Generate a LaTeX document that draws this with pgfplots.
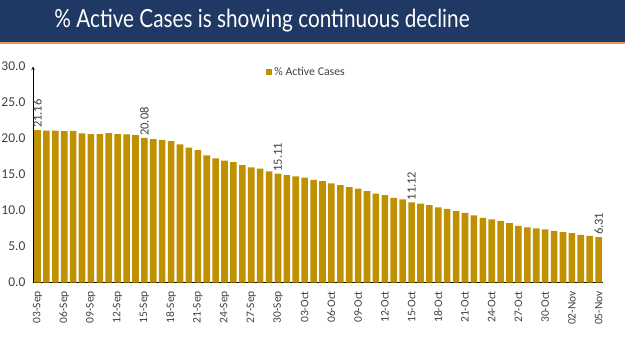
\documentclass[border=0pt]{standalone}
\usepackage{fontspec}
\setmainfont{Carlito}
\newfontfamily\titlefont{Lato}
\usepackage{pgfplots}
\usepackage{pgfplotstable}
\pgfplotsset{compat=1.18}
\definecolor{barcol}{RGB}{191,144,0}
\definecolor{banner}{RGB}{31,56,100}
\definecolor{bannerline}{RGB}{230,150,95}
\definecolor{txt}{RGB}{64,64,64}
\pgfplotstableread{
x y
0 21.16
1 21.11
2 21.09
3 21.03
4 21.07
5 20.70
6 20.60
7 20.60
8 20.74
9 20.62
10 20.56
11 20.47
12 20.08
13 19.91
14 19.82
15 19.63
16 19.17
17 18.75
18 18.38
19 17.64
20 17.23
21 16.92
22 16.72
23 16.31
24 15.99
25 15.80
26 15.43
27 15.11
28 14.92
29 14.74
30 14.55
31 14.27
32 14.08
33 13.78
34 13.52
35 13.24
36 13.05
37 12.68
38 12.36
39 12.13
40 11.76
41 11.53
42 11.12
43 10.97
44 10.74
45 10.45
46 10.23
47 9.91
48 9.67
49 9.31
50 8.97
51 8.76
52 8.57
53 8.24
54 7.87
55 7.67
56 7.53
57 7.37
58 7.18
59 7.00
60 6.86
61 6.62
62 6.48
63 6.31
}\activedata
\pgfplotstableread{
x y
0 21.16
12 20.08
27 15.11
42 11.12
63 6.31
}\labeldata
\begin{document}
\begin{tikzpicture}
\useasboundingbox (0,0) rectangle (625pt,-351pt);
\fill[banner] (0,0) rectangle (625pt,-42pt);
\fill[bannerline] (0,-42pt) rectangle (625pt,-44pt);
\node[text=white, anchor=center, inner sep=0pt] at (262pt,-21pt) {\scalebox{0.83}[1]{\titlefont\fontsize{25}{28}\selectfont \% Active Cases is showing continuous decline}};
\begin{axis}[
  at={(37.5pt,-282.5pt)}, anchor=origin,
  scale only axis, width=570pt, height=216pt,
  xmin=-0.5, xmax=63.5, ymin=0, ymax=30,
  axis x line=bottom, axis y line=left,
  axis line style={black, line width=0.6pt},
  y axis line style={-stealth},
  x axis line style={-},
  ytick={0,5,...,30},
  ytick style={draw=none},
  yticklabel style={/pgf/number format/fixed, /pgf/number format/fixed zerofill, /pgf/number format/precision=1, /pgf/number format/assume math mode=true, font=\fontsize{13.5}{14}\selectfont, text=txt, xshift=-2pt},
  xtick={0,3,...,63},
  xticklabels={03-Sep,06-Sep,09-Sep,12-Sep,15-Sep,18-Sep,21-Sep,24-Sep,27-Sep,30-Sep,03-Oct,06-Oct,09-Oct,12-Oct,15-Oct,18-Oct,21-Oct,24-Oct,27-Oct,30-Oct,02-Nov,05-Nov},
  xtick style={draw=none},
  xticklabel style={rotate=90, anchor=east, font=\fontsize{11.5}{12}\selectfont, text=txt, xshift=-3pt},
  extra x ticks={-0.5,2.5,...,62.5},
  extra x tick labels={},
  extra x tick style={tick align=outside, major tick length=3pt, tick style={draw=black, line width=0.6pt}},
  clip=false,
  legend style={at={(0.48,0.975)}, anchor=center, draw=none, fill=none, font=\fontsize{11.8}{12}\selectfont, text=txt, legend cell align=left},
  legend image code/.code={\fill[barcol] (0pt,-3pt) rectangle (6pt,3pt);},
]
\addplot[ybar, bar width=6.6pt, fill=barcol, draw=none] table[x=x,y=y]{\activedata};
\addlegendentry{\% Active Cases}
\addplot[draw=none, mark=none, forget plot,
  nodes near coords={\pgfmathprintnumber[fixed,precision=2,assume math mode=true]{\pgfplotspointmeta}},
  every node near coord/.append style={rotate=90, anchor=west, font=\fontsize{12.5}{13}\selectfont, text=txt, inner sep=2pt}]
  table[x=x,y=y]{\labeldata};
\end{axis}
\end{tikzpicture}
\end{document}
